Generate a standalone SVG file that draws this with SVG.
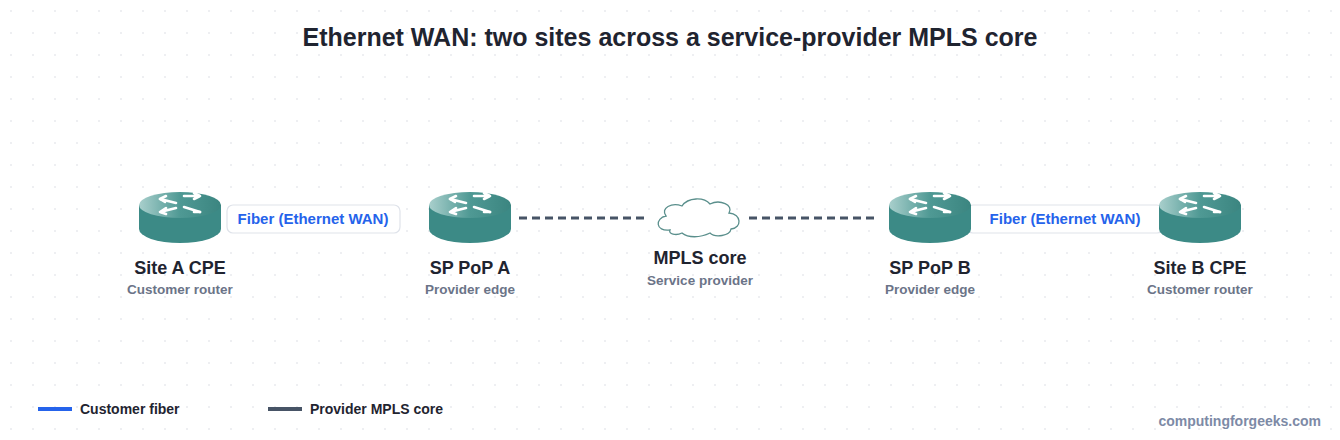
<svg xmlns="http://www.w3.org/2000/svg" width="1340" height="440" viewBox="0 0 1340 440">
<defs>
<pattern id="grid" width="22" height="22" patternUnits="userSpaceOnUse"><circle cx="11" cy="11" r="0.9" fill="#e6e8ec"/></pattern>
<linearGradient id="top" x1="0" y1="0" x2="1" y2="0"><stop offset="0" stop-color="#a9cfcc"/><stop offset="0.5" stop-color="#4f9994"/><stop offset="1" stop-color="#3b8580"/></linearGradient>
<g id="router">
<path d="M-41,0 V24 A41,14 0 0 0 41,24 V0 Z" fill="#3c8a86"/>
<ellipse cx="0" cy="0" rx="41" ry="13" fill="url(#top)"/>
<g stroke="#fff" stroke-width="2.6" fill="none" stroke-linecap="round">
<path d="M-20,-6 L-4,-2"/><path d="M4,-9 L20,-9 M20,-9 l-6,-3 M20,-9 l-6,3"/>
<path d="M-20,-6 l6,-3 M-20,-6 l5,3"/>
<path d="M4,2 L20,7"/><path d="M-4,3 L-20,7 M-20,7 l6,-4 M-20,7 l6,2"/>
<path d="M20,7 l-6,0"/>
</g>
</g>
</defs>
<style>
.t{font-family:"Liberation Sans",Arial,sans-serif;font-weight:bold}
.name{font-size:18px;fill:#1f2430;text-anchor:middle}
.sub{font-size:13.5px;fill:#6b7488;text-anchor:middle}
.lbl{font-size:15px;fill:#2563eb;text-anchor:middle}
.box{fill:#fff;stroke:#dfe3ea;stroke-width:1.2}
.core{stroke:#475466;stroke-width:3;stroke-dasharray:8,5}
</style>
<rect width="1340" height="440" fill="#fff"/>
<rect width="1340" height="440" fill="url(#grid)"/>
<text class="t" x="670" y="46" font-size="25" fill="#1f2430" text-anchor="middle">Ethernet WAN: two sites across a service-provider MPLS core</text>
<g id="connectors">
<line class="core" x1="519" y1="218" x2="646" y2="218"/>
<line class="core" x1="749" y1="218" x2="877" y2="218"/>
<rect class="box" x="227" y="205" width="173" height="28" rx="6"/>
<text class="t lbl" x="313" y="224">Fiber (Ethernet WAN)</text>
<rect class="box" x="967" y="205" width="196" height="28" rx="6"/>
<text class="t lbl" x="1065" y="224">Fiber (Ethernet WAN)</text>
</g>
<g id="siteA"><use href="#router" x="180" y="205"/><text class="t name" x="180" y="274">Site A CPE</text><text class="t sub" x="180" y="294">Customer router</text></g>
<g id="popA"><use href="#router" x="470" y="205"/><text class="t name" x="470" y="274">SP PoP A</text><text class="t sub" x="470" y="294">Provider edge</text></g>
<g id="mpls">
<path d="M670,230 C655,232 655,218 666,216 C660,208 672,202 682,206 C688,197 704,197 710,204 C720,199 734,205 729,213 C742,214 742,228 731,229 C730,236 715,238 710,233 C700,238 688,238 682,233 C676,236 668,234 670,230 Z" fill="#fff" stroke="#5a8f8c" stroke-width="1.3"/>
<text class="t name" x="700" y="264">MPLS core</text><text class="t sub" x="700" y="285">Service provider</text></g>
<g id="popB"><use href="#router" x="930" y="205"/><text class="t name" x="930" y="274">SP PoP B</text><text class="t sub" x="930" y="294">Provider edge</text></g>
<g id="siteB"><use href="#router" x="1200" y="205"/><text class="t name" x="1200" y="274">Site B CPE</text><text class="t sub" x="1200" y="294">Customer router</text></g>
<g id="legend">
<line x1="38" y1="409" x2="72" y2="409" stroke="#2563eb" stroke-width="4"/>
<text class="t" x="80" y="414" font-size="14" fill="#1f2430">Customer fiber</text>
<line x1="268" y1="409" x2="302" y2="409" stroke="#475466" stroke-width="4"/>
<text class="t" x="310" y="414" font-size="14" fill="#1f2430">Provider MPLS core</text>
</g>
<text class="t" x="1321" y="426" font-size="14" fill="#7d8aa6" text-anchor="end">computingforgeeks.com</text>
</svg>
